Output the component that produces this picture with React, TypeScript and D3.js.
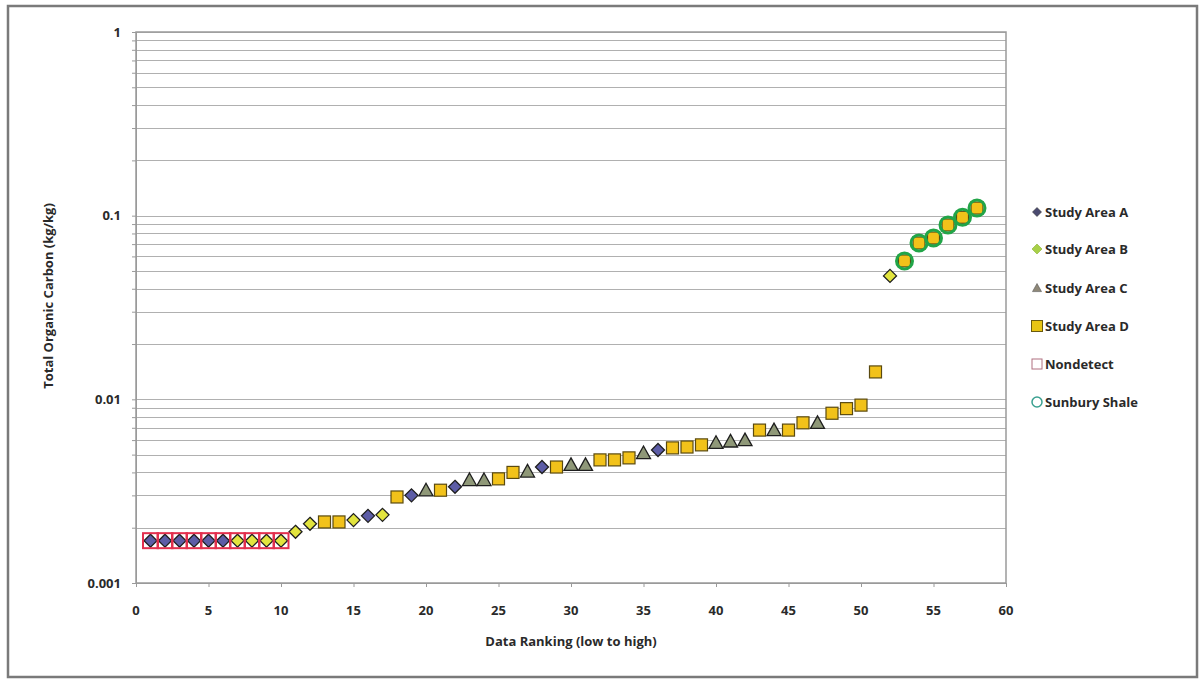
import React, { useRef, useEffect } from 'react';
import * as d3 from 'd3';

const W = 1203;
const H = 681;
const PLOT = { left: 136, right: 1006, top: 32, bottom: 583 };
const FONT = '"Open Sans", sans-serif';
const TEXT = '#2a2a2a';

// Data: rank (low to high) and TOC (kg/kg)
const studyARank = [1, 2, 3, 4, 5, 6, 16, 19, 22, 28, 36];
const studyAToc = [0.0017, 0.0017, 0.0017, 0.0017, 0.0017, 0.0017, 0.00232, 0.003, 0.00334, 0.00428, 0.0053];

const studyBRank = [7, 8, 9, 10, 11, 12, 15, 17, 52];
const studyBToc = [0.0017, 0.0017, 0.0017, 0.0017, 0.0019, 0.0021, 0.0022, 0.00235, 0.047];

const studyCRank = [20, 23, 24, 27, 30, 31, 35, 40, 41, 42, 44, 47];
const studyCToc = [0.0032, 0.00364, 0.00364, 0.00405, 0.0044, 0.0044, 0.0051, 0.0058, 0.0059, 0.006, 0.0068, 0.00745];

const studyDRank = [13, 14, 18, 21, 25, 26, 29, 32, 33, 34, 37, 38, 39, 43, 45, 46, 48, 49, 50, 51, 53, 54, 55, 56, 57, 58];
const studyDToc = [0.00215, 0.00215, 0.00294, 0.0032, 0.00369, 0.004, 0.00428, 0.00468, 0.00468, 0.0048, 0.00544, 0.0055, 0.00565, 0.0068, 0.0068, 0.00745, 0.0084, 0.0089, 0.0093, 0.0141, 0.0567, 0.071, 0.0756, 0.089, 0.098, 0.11];

const nondetectRank = [1, 2, 3, 4, 5, 6, 7, 8, 9, 10];
const nondetectToc = [0.0017, 0.0017, 0.0017, 0.0017, 0.0017, 0.0017, 0.0017, 0.0017, 0.0017, 0.0017];

const sunburyRank = [53, 54, 55, 56, 57, 58];
const sunburyToc = [0.0567, 0.071, 0.0756, 0.089, 0.098, 0.11];

const xTicks = [0, 5, 10, 15, 20, 25, 30, 35, 40, 45, 50, 55, 60];
const yMajor = [0.001, 0.01, 0.1, 1];
const yTickLabels = ['0.001', '0.01', '0.1', '1'];

const legendLabels = ['Study Area A', 'Study Area B', 'Study Area C', 'Study Area D', 'Nondetect', 'Sunbury Shale'];

const zip = (r: number[], v: number[]) => r.map((d, i) => ({ rank: d, toc: v[i] }));

export default function App() {
  const svgRef = useRef<SVGSVGElement>(null);

  useEffect(() => {
    const svg = d3.select(svgRef.current);
    svg.selectAll('*').remove();

    const x = d3.scaleLinear().domain([0, 60]).range([PLOT.left, PLOT.right]);
    const y = d3.scaleLog().domain([0.001, 1]).range([PLOT.bottom, PLOT.top]);

    svg.append('rect').attr('width', W).attr('height', H).attr('fill', '#fff');
    // outer chart frame
    svg.append('rect').attr('x', 8).attr('y', 6).attr('width', 1189).attr('height', 671)
      .attr('fill', 'none').attr('stroke', '#7a7a7a').attr('stroke-width', 2.5);

    // log gridlines (major + minor)
    const allTicks = y.ticks();
    svg.append('g').selectAll('line').data(allTicks).join('line')
      .attr('x1', PLOT.left).attr('x2', PLOT.right)
      .attr('y1', d => Math.round(y(d)) + 0.5).attr('y2', d => Math.round(y(d)) + 0.5)
      .attr('stroke', '#b0b0b0').attr('stroke-width', 1);

    // plot frame
    svg.append('rect').attr('x', PLOT.left).attr('y', PLOT.top)
      .attr('width', PLOT.right - PLOT.left).attr('height', PLOT.bottom - PLOT.top)
      .attr('fill', 'none').attr('stroke', '#9a9a9a').attr('stroke-width', 1.5);

    // axes
    svg.append('g').attr('transform', `translate(${PLOT.left},0)`)
      .call(d3.axisLeft(y).tickValues(allTicks).tickSize(4).tickFormat(() => ''))
      .call(a => a.selectAll('line,path').attr('stroke', '#9a9a9a'));
    svg.append('g').attr('transform', `translate(0,${PLOT.bottom})`)
      .call(d3.axisBottom(x).tickValues(xTicks).tickSize(4).tickFormat(() => ''))
      .call(a => a.selectAll('line,path').attr('stroke', '#9a9a9a'));

    svg.append('g').selectAll('text').data(yMajor).join('text')
      .attr('x', 121).attr('y', d => y(d)).attr('dy', '0.35em')
      .attr('text-anchor', 'end').attr('font-family', FONT).attr('font-weight', 700)
      .attr('font-size', 13).attr('fill', TEXT).text((d, i) => yTickLabels[i]);

    svg.append('g').selectAll('text').data(xTicks).join('text')
      .attr('x', d => x(d)).attr('y', 610).attr('dy', '0.35em')
      .attr('text-anchor', 'middle').attr('font-family', FONT).attr('font-weight', 700)
      .attr('font-size', 13).attr('fill', TEXT).text(d => String(d));

    svg.append('text').attr('transform', 'translate(48,296) rotate(-90)')
      .attr('text-anchor', 'middle').attr('dy', '0.35em')
      .attr('font-family', FONT).attr('font-weight', 700).attr('font-size', 13).attr('fill', TEXT)
      .text('Total Organic Carbon (kg/kg)');
    svg.append('text').attr('x', 571).attr('y', 641).attr('dy', '0.35em')
      .attr('text-anchor', 'middle')
      .attr('font-family', FONT).attr('font-weight', 700).attr('font-size', 13).attr('fill', TEXT)
      .text('Data Ranking (low to high)');

    const pts = svg.append('g');
    const diamond = (s: number) => `M0,${-s}L${s},0L0,${s}L${-s},0Z`;
    const tri = (s: number) => `M0,${-s}L${s},${s * 0.8}L${-s},${s * 0.8}Z`;

    pts.append('g').selectAll('path').data(zip(studyARank, studyAToc)).join('path')
      .attr('transform', d => `translate(${x(d.rank)},${y(d.toc)})`)
      .attr('d', diamond(6.5)).attr('fill', '#5c5ca6').attr('stroke', '#1e1e1e').attr('stroke-width', 1.3);
    pts.append('g').selectAll('path').data(zip(studyBRank, studyBToc)).join('path')
      .attr('transform', d => `translate(${x(d.rank)},${y(d.toc)})`)
      .attr('d', diamond(6.5)).attr('fill', '#e2e43e').attr('stroke', '#1e1e1e').attr('stroke-width', 1.3);
    pts.append('g').selectAll('path').data(zip(studyCRank, studyCToc)).join('path')
      .attr('transform', d => `translate(${x(d.rank)},${y(d.toc)})`)
      .attr('d', tri(7)).attr('fill', '#8f9878').attr('stroke', '#1e1e1e').attr('stroke-width', 1.3);
    pts.append('g').selectAll('rect').data(zip(studyDRank, studyDToc)).join('rect')
      .attr('x', d => x(d.rank) - 6).attr('y', d => y(d.toc) - 6)
      .attr('width', 12).attr('height', 12)
      .attr('fill', '#f2c21a').attr('stroke', '#5a4a10').attr('stroke-width', 1.2);
    pts.append('g').selectAll('rect').data(zip(nondetectRank, nondetectToc)).join('rect')
      .attr('x', d => x(d.rank) - 7.5).attr('y', d => y(d.toc) - 7.5)
      .attr('width', 15).attr('height', 15)
      .attr('fill', 'none').attr('stroke', '#e2304e').attr('stroke-width', 2);
    pts.append('g').selectAll('circle').data(zip(sunburyRank, sunburyToc)).join('circle')
      .attr('cx', d => x(d.rank)).attr('cy', d => y(d.toc)).attr('r', 8)
      .attr('fill', 'none').attr('stroke', '#22a548').attr('stroke-width', 3);

    // legend
    const lg = svg.append('g').attr('transform', 'translate(1037,0)');
    const rowY = [212, 249, 288, 326, 364, 402];
    const items = lg.selectAll('g').data(legendLabels).join('g')
      .attr('transform', (d, i) => `translate(0,${rowY[i]})`);
    items.append('text').attr('x', 8).attr('dy', '0.35em')
      .attr('font-family', FONT).attr('font-weight', 700).attr('font-size', 13).attr('fill', TEXT)
      .text(d => d);
    items.each(function (d, i) {
      const g = d3.select(this);
      if (i === 0) g.append('path').attr('d', diamond(4.5)).attr('fill', '#4a4a70').attr('stroke', '#333').attr('stroke-width', 0.6);
      if (i === 1) g.append('path').attr('d', diamond(5)).attr('fill', '#a8d048').attr('stroke', '#8ab030').attr('stroke-width', 0.6);
      if (i === 2) g.append('path').attr('d', tri(4.5)).attr('fill', '#8f8878').attr('stroke', '#555').attr('stroke-width', 0.6);
      if (i === 3) g.append('rect').attr('x', -5.5).attr('y', -5.5).attr('width', 11).attr('height', 11)
        .attr('fill', '#e8c414').attr('stroke', '#6a5a10').attr('stroke-width', 1);
      if (i === 4) g.append('rect').attr('x', -5).attr('y', -5).attr('width', 10).attr('height', 10)
        .attr('fill', 'none').attr('stroke', '#b07080').attr('stroke-width', 1);
      if (i === 5) g.append('circle').attr('r', 5).attr('fill', 'none').attr('stroke', '#3aa090').attr('stroke-width', 1.5);
    });
  }, []);

  return (
    <svg ref={svgRef} width={W} height={H} style={{ position: 'absolute', left: 0, top: 0 }} />
  );
}
